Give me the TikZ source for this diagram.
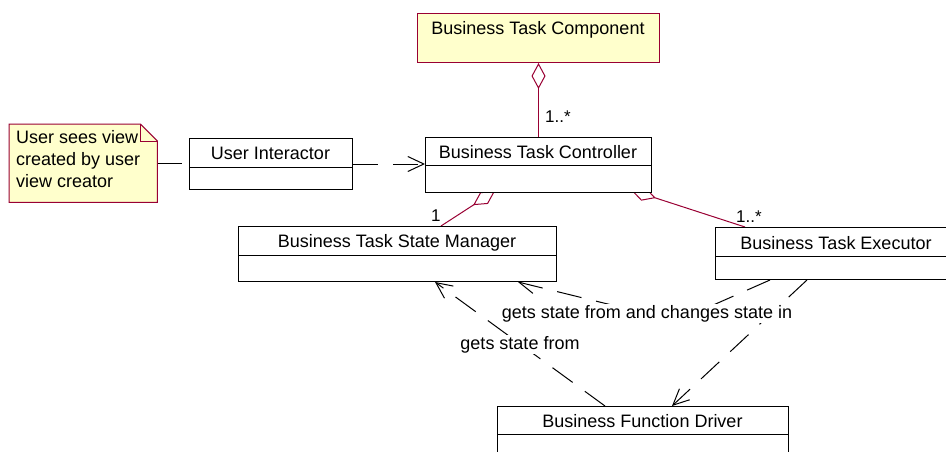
\documentclass[tikz,border=0pt]{standalone}
\usepackage{fontspec}
\setmainfont{Liberation Sans}
\usetikzlibrary{arrows.meta,calc}
\definecolor{notefill}{HTML}{FFFFCC}
\definecolor{rosered}{HTML}{990033}
\pgfdeclarelayer{bg}
\pgfsetlayers{bg,main}
\begin{document}
\begin{tikzpicture}[x=1pt,y=-1pt,
  box/.style={draw=black, fill=white, line width=1pt, inner sep=0pt, anchor=north west},
  ybox/.style={draw=rosered, fill=notefill, line width=1pt, inner sep=0pt, anchor=north west},
  notestyle/.style={draw=rosered, fill=notefill, line width=1pt, line join=miter},
  txt/.style={font=\fontsize{18}{22}\selectfont, inner sep=0pt, anchor=base},
  notetxt/.style={font=\fontsize{18}{22}\selectfont, inner sep=0pt, anchor=base west},
  mult/.style={font=\fontsize{17}{20}\selectfont, inner sep=0pt, anchor=base west},
  lbl/.style={font=\fontsize{18}{22}\selectfont, inner sep=1pt, fill=white, anchor=base},
  agg/.style={draw=rosered, line width=1pt, -{Diamond[open, length=26pt, width=14pt]}},
  dep/.style={draw=black, line width=1pt, dash pattern=on 25pt off 15pt, -{Straight Barb[length=16pt, width=15pt]}},
  link/.style={draw=black, line width=1pt, dash pattern=on 25pt off 15pt},
  div/.style={draw=black, line width=1pt}
]
\useasboundingbox (0,0) rectangle (946,452);

% note
\node[inner sep=0pt, anchor=north west, minimum width=148pt, minimum height=78pt] (note) at (9,124) {};
\draw[notestyle] (note.north west) -- ([xshift=-17pt]note.north east) -- ([yshift=-17pt]note.north east) -- (note.south east) -- (note.south west) -- cycle;
\draw[notestyle, fill=none] ([xshift=-17pt]note.north east) |- ([yshift=-17pt]note.north east);
\node[notetxt] (n1) at (16,143) {User sees view};
\node[notetxt] (n2) at (16,165) {created by user};
\node[notetxt] (n3) at (16,187) {view creator};

% component
\node[ybox, minimum width=242pt, minimum height=49pt] (comp) at (417,13) {};
\node[txt] (compT) at (538,35) {Business Task Component};

% controller
\node[box, minimum width=226pt, minimum height=55pt] (ctrl) at (425,137) {};
\node[txt] (ctrlT) at (538,158) {Business Task Controller};
\draw[div] (ctrl.west |- 0,165) -- (ctrl.east |- 0,165);

% user interactor
\node[box, minimum width=163pt, minimum height=51pt] (ui) at (189,138) {};
\node[txt] (uiT) at (270.5,159) {User Interactor};
\draw[div] (ui.west |- 0,167) -- (ui.east |- 0,167);

% state manager
\node[box, minimum width=318pt, minimum height=55pt] (smgr) at (238,226) {};
\node[txt] (smgrT) at (397,247) {Business Task State Manager};
\draw[div] (smgr.west |- 0,255) -- (smgr.east |- 0,255);

% executor
\node[box, minimum width=242pt, minimum height=52pt] (exec) at (715,227) {};
\node[txt] (execT) at (836,249) {Business Task Executor};
\draw[div] (exec.west |- 0,256) -- (exec.east |- 0,256);

% function driver
\node[box, minimum width=291pt, minimum height=60pt] (drv) at (497,406) {};
\node[txt] (drvT) at (642.5,427) {Business Function Driver};
\draw[div] (drv.west |- 0,434) -- (drv.east |- 0,434);

\coordinate (bend) at (677,321);

\begin{pgfonlayer}{bg}
\draw[agg] (ctrl.north) -- (comp.south);
\draw[agg] ([xshift=203pt]smgr.north west) -- ([xshift=70pt,yshift=2pt]ctrl.south west);
\draw[agg] ([xshift=30pt]exec.north west) -- ([xshift=206pt,yshift=3pt]ctrl.south west);
\draw[link] (note.east) -- (note.east -| ui.west);
\draw[dep] (ui.east) -- (ui.east -| ctrl.west);
\draw[dep] ([xshift=108pt]drv.north west) -- ([xshift=197pt]smgr.south west);
\draw[dep] ([xshift=55pt]exec.south west) -- (bend) -- ([xshift=280pt]smgr.south west);
\draw[dep] ([xshift=92pt]exec.south west) -- ([xshift=175pt]drv.north west);
\end{pgfonlayer}

% labels
\node[lbl] (l1) at (520,349) {gets state from};
\node[lbl] (l2) at (647,318) {gets state from and changes state in};
\node[mult] (m1) at (545,123) {1..*};
\node[mult] (m2) at (431,221) {1};
\node[mult] (m3) at (736,222) {1..*};
\end{tikzpicture}
\end{document}
